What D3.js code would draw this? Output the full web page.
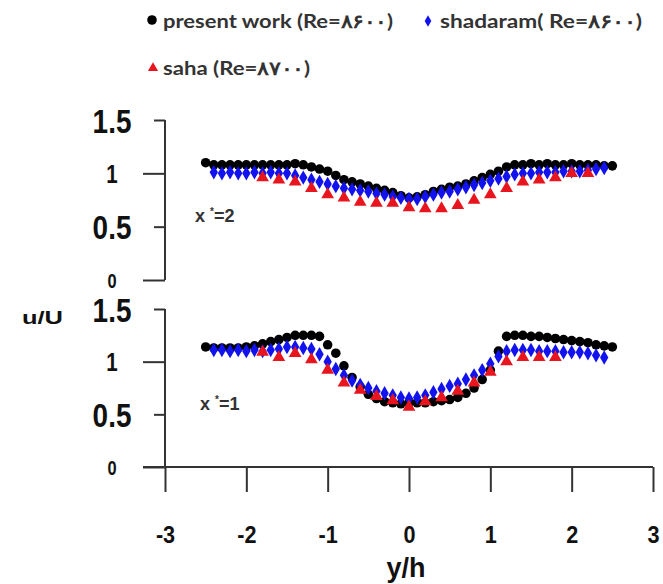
<!DOCTYPE html>
<html>
<head>
<meta charset="utf-8">
<script src="https://cdn.jsdelivr.net/npm/d3@7"></script>
<style>
  body { margin: 0; background: #fff; }
  svg { display: block; }
</style>
</head>
<body>
<svg width="663" height="584"></svg>
<script>
// y/h positions
var xBlack = d3.range(-25, 26).map(function (i) { return i / 10; });
var xBlue = d3.range(-24, 25).map(function (i) { return i / 10; });
var xRedTop = d3.range(-9, 12).map(function (i) { return i / 5; });
var xRedBot = d3.range(-9, 10).map(function (i) { return i / 5; });

// x* = 2 (upper panel)
var blackTop = [1.10, 1.08, 1.08, 1.08, 1.08, 1.08, 1.08, 1.08, 1.08, 1.08, 1.08, 1.09, 1.08, 1.06, 1.04, 1.02,
  0.98, 0.94, 0.92, 0.90, 0.88, 0.86, 0.84, 0.82, 0.79, 0.77, 0.78, 0.80, 0.83, 0.85, 0.87, 0.88, 0.90, 0.93,
  0.96, 0.99, 1.02, 1.06, 1.08, 1.08, 1.09, 1.08, 1.09, 1.08, 1.08, 1.09, 1.08, 1.08, 1.08, 1.07, 1.07];
var blueTop = [1.01, 1.00, 1.01, 1.00, 1.00, 1.01, 1.00, 1.01, 1.00, 1.00, 0.98, 0.96, 0.94, 0.92, 0.90, 0.88,
  0.86, 0.85, 0.84, 0.83, 0.81, 0.80, 0.78, 0.77, 0.76, 0.76, 0.78, 0.80, 0.82, 0.83, 0.85, 0.87, 0.89, 0.91,
  0.93, 0.95, 0.97, 0.99, 1.00, 1.00, 1.01, 1.01, 1.01, 1.02, 1.02, 1.02, 1.03, 1.04, 1.05];
var redTop = [0.96, 0.94, 0.92, 0.86, 0.80, 0.77, 0.73, 0.72, 0.72, 0.68, 0.67, 0.67, 0.70, 0.75, 0.80, 0.86,
  0.92, 0.94, 0.96, 1.00, 1.00];

// x* = 1 (lower panel)
var blackBot = [1.14, 1.13, 1.13, 1.13, 1.13, 1.14, 1.15, 1.17, 1.19, 1.21, 1.23, 1.25, 1.25, 1.25, 1.24, 1.16,
  1.08, 0.96, 0.85, 0.76, 0.69, 0.65, 0.62, 0.61, 0.60, 0.61, 0.61, 0.61, 0.62, 0.63, 0.64, 0.66, 0.70, 0.75,
  0.83, 0.92, 1.10, 1.24, 1.25, 1.25, 1.24, 1.24, 1.23, 1.22, 1.21, 1.20, 1.19, 1.18, 1.16, 1.15, 1.14];
var blueBot = [1.11, 1.11, 1.10, 1.11, 1.10, 1.11, 1.10, 1.11, 1.12, 1.14, 1.14, 1.13, 1.12, 1.07, 1.00, 0.93,
  0.87, 0.82, 0.78, 0.75, 0.72, 0.70, 0.68, 0.66, 0.65, 0.66, 0.68, 0.71, 0.74, 0.77, 0.79, 0.83, 0.87, 0.92,
  0.98, 1.05, 1.10, 1.11, 1.11, 1.11, 1.10, 1.10, 1.10, 1.09, 1.09, 1.09, 1.08, 1.06, 1.04];
var redBot = [1.09, 1.04, 1.08, 1.02, 0.92, 0.80, 0.73, 0.67, 0.63, 0.57, 0.62, 0.66, 0.72, 0.80, 0.90, 1.00,
  1.04, 1.04, 1.04];

var yTicks = [0, 0.5, 1, 1.5];
var xTicks = [-3, -2, -1, 0, 1, 2, 3];
var legendNames = ["present work (Re=\u06F8\u06F6\u06F0\u06F0)", "shadaram( Re=\u06F8\u06F6\u06F0\u06F0)", "saha (Re=\u06F8\u06F7\u06F0\u06F0)"];

var svg = d3.select("svg");
var axisColor = "#333";
var numFont = "'Liberation Sans', Arial, sans-serif";

var x = d3.scaleLinear().domain([-3, 3]).range([165, 653]);
var yTop = d3.scaleLinear().domain([0, 1.5]).range([280, 120]);
var yBot = d3.scaleLinear().domain([0, 1.5]).range([467, 309]);

var circle = d3.symbol().type(d3.symbolCircle).size(72);
var diamond = d3.symbol().type(d3.symbolDiamond).size(60);
var triangle = d3.symbol().type(d3.symbolTriangle).size(70);

// squeeze a text to look condensed
function squeeze(sel, k) {
  sel.each(function () {
    var w = this.getComputedTextLength();
    d3.select(this).attr("textLength", w * k).attr("lengthAdjust", "spacingAndGlyphs");
  });
}

function drawPanel(y, black, blue, red, xRed, label) {
  var ax = svg.append("g")
    .attr("transform", "translate(" + x(-3) + ",0)")
    .call(d3.axisLeft(y).tickValues(yTicks).tickSize(21).tickPadding(0).tickFormat(String));
  ax.select(".domain").remove();
  ax.selectAll(".tick line")
    .attr("x2", function (d) { return (d === 0.5 || d === 1.5) ? -11 : -22; })
    .attr("stroke", axisColor).attr("stroke-width", 2);
  ax.selectAll(".tick text")
    .attr("x", -53)
    .attr("text-anchor", "middle")
    .attr("dy", "0.36em")
    .attr("fill", "#111")
    .style("font-family", numFont)
    .style("font-weight", "bold")
    .style("font-size", function (d) {
      if (d === 0) return "20px";
      if (d === 1) return "25px";
      return "34px";
    })
    .call(squeeze, 0.82);
  svg.append("line")
    .attr("x1", x(-3)).attr("x2", x(-3))
    .attr("y1", y(1.5)).attr("y2", y(0))
    .attr("stroke", axisColor).attr("stroke-width", 2);

  var g = svg.append("g");
  g.selectAll("path.black").data(black).enter().append("path")
    .attr("class", "black")
    .attr("d", circle)
    .attr("transform", function (d, i) { return "translate(" + x(xBlack[i]) + "," + y(d) + ")"; })
    .attr("fill", "#000");
  g.selectAll("path.blue").data(blue).enter().append("path")
    .attr("class", "blue")
    .attr("d", diamond)
    .attr("transform", function (d, i) { return "translate(" + x(xBlue[i]) + "," + y(d) + ")"; })
    .attr("fill", "#1212ee");
  g.selectAll("path.red").data(red).enter().append("path")
    .attr("class", "red")
    .attr("d", triangle)
    .attr("transform", function (d, i) { return "translate(" + x(xRed[i]) + "," + y(d) + ")"; })
    .attr("fill", "#e8141e");

  var t = svg.append("text")
    .attr("x", label.x).attr("y", label.y)
    .attr("fill", "#333")
    .style("font-family", "'Liberation Sans', Arial, sans-serif")
    .style("font-weight", "bold")
    .style("font-size", "18px");
  t.append("tspan").text("x ");
  t.append("tspan").attr("dy", -7).style("font-size", "10px").text("*");
  t.append("tspan").attr("dy", 7).text("=" + label.n);
}

drawPanel(yTop, blackTop, blueTop, redTop, xRedTop, { x: 195, y: 222, n: 2 });
drawPanel(yBot, blackBot, blueBot, redBot, xRedBot, { x: 200, y: 410, n: 1 });

// bottom x axis
var xa = svg.append("g")
  .attr("transform", "translate(0," + yBot(0) + ")")
  .call(d3.axisBottom(x).tickValues(xTicks).tickSize(25).tickPadding(34).tickFormat(String));
xa.select(".domain").remove();
xa.selectAll(".tick line").attr("stroke", axisColor).attr("stroke-width", 2);
xa.selectAll(".tick text")
  .attr("fill", "#111")
  .style("font-family", numFont)
  .style("font-weight", "bold")
  .style("font-size", "24px")
  .call(squeeze, 0.9);
svg.append("line")
  .attr("x1", 143).attr("x2", x(3))
  .attr("y1", yBot(0)).attr("y2", yBot(0))
  .attr("stroke", axisColor).attr("stroke-width", 2);

svg.append("text")
  .attr("x", 406).attr("y", 577)
  .attr("text-anchor", "middle")
  .attr("fill", "#111")
  .style("font-family", "'Liberation Sans', Arial, sans-serif")
  .style("font-weight", "bold")
  .style("font-size", "27px")
  .text("y/h");

svg.append("text")
  .attr("x", 22).attr("y", 324)
  .attr("fill", "#111")
  .style("font-family", "'Liberation Sans', Arial, sans-serif")
  .style("font-weight", "bold")
  .style("font-size", "19px")
  .text("u/U")
  .call(function (s) { s.attr("textLength", 41).attr("lengthAdjust", "spacingAndGlyphs"); });

// legend
var leg = [
  { sym: circle, color: "#000", mx: 152, my: 20, tx: 163, ty: 28, s: 1.0, w: 230 },
  { sym: diamond, color: "#1212ee", mx: 428, my: 21, tx: 440, ty: 28, s: 0.8, w: 202 },
  { sym: triangle, color: "#e8141e", mx: 153, my: 68, tx: 163, ty: 75, s: 0.8, w: 147 }
];
leg.forEach(function (l, i) {
  svg.append("path")
    .attr("d", l.sym)
    .attr("transform", "translate(" + l.mx + "," + l.my + ") scale(" + l.s + ")")
    .attr("fill", l.color);
  svg.append("text")
    .attr("x", l.tx).attr("y", l.ty)
    .attr("fill", "#333")
    .attr("textLength", l.w).attr("lengthAdjust", "spacingAndGlyphs")
    .style("font-family", "Lato, 'Open Sans', sans-serif")
    .style("font-weight", "bold")
    .style("font-size", "19px")
    .text(legendNames[i]);
});
</script>
</body>
</html>
